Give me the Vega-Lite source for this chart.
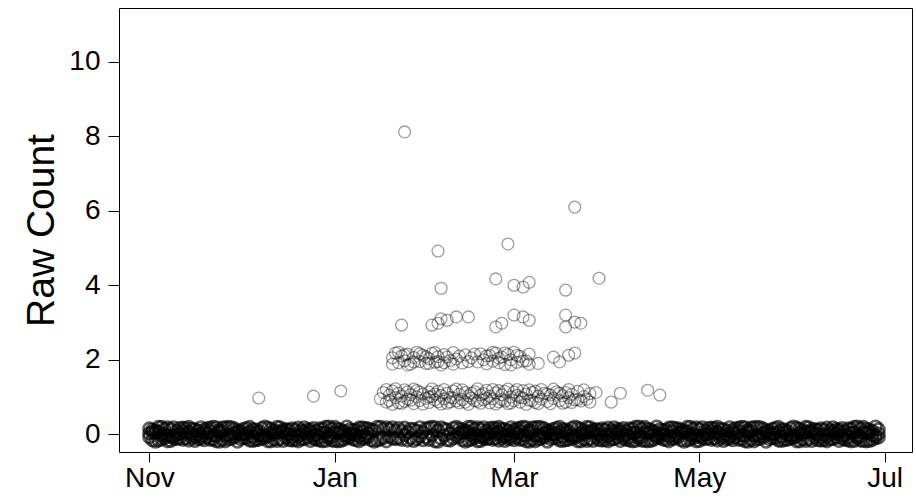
{
  "$schema": "https://vega.github.io/schema/vega-lite/v6.json",
  "width": 793,
  "height": 444,
  "autosize": {"type": "none"},
  "padding": {"left": 119, "top": 8, "right": 4, "bottom": 47},
  "background": "white",
  "config": {
    "view": {"stroke": "black", "strokeWidth": 1},
    "font": "Liberation Sans"
  },
  "datasets": {
    "zeros": [
      {"d":"2014-11-01","n":0.15},{"d":"2014-11-01","n":-0.08},{"d":"2014-11-01","n":0.02},
      {"d":"2014-11-02","n":0.12},{"d":"2014-11-02","n":-0.16},{"d":"2014-11-02","n":0.05},
      {"d":"2014-11-03","n":0.04},{"d":"2014-11-03","n":-0.2},{"d":"2014-11-03","n":0.1},
      {"d":"2014-11-04","n":-0.17},{"d":"2014-11-04","n":0.06},{"d":"2014-11-04","n":0.19},
      {"d":"2014-11-05","n":0.19},{"d":"2014-11-05","n":-0.03},{"d":"2014-11-05","n":-0.14},
      {"d":"2014-11-06","n":0},{"d":"2014-11-06","n":-0.1},{"d":"2014-11-06","n":0.14},
      {"d":"2014-11-07","n":-0.04},{"d":"2014-11-07","n":0.18},{"d":"2014-11-07","n":-0.19},
      {"d":"2014-11-08","n":-0.07},{"d":"2014-11-08","n":0.13},{"d":"2014-11-08","n":-0.18},
      {"d":"2014-11-09","n":0.18},{"d":"2014-11-09","n":-0.06},{"d":"2014-11-09","n":-0.12},
      {"d":"2014-11-10","n":0.09},{"d":"2014-11-10","n":-0.13},{"d":"2014-11-10","n":-0.01},
      {"d":"2014-11-11","n":-0.11},{"d":"2014-11-11","n":0.01},{"d":"2014-11-11","n":0.16},
      {"d":"2014-11-12","n":-0.15},{"d":"2014-11-12","n":0.08},{"d":"2014-11-12","n":0.17},
      {"d":"2014-11-13","n":-0.11},{"d":"2014-11-13","n":0.01},{"d":"2014-11-13","n":0.16},
      {"d":"2014-11-14","n":-0.17},{"d":"2014-11-14","n":0.06},{"d":"2014-11-14","n":0.19},
      {"d":"2014-11-15","n":0},{"d":"2014-11-15","n":-0.1},{"d":"2014-11-15","n":0.14},
      {"d":"2014-11-16","n":-0.07},{"d":"2014-11-16","n":0.13},{"d":"2014-11-16","n":-0.18},
      {"d":"2014-11-17","n":0.09},{"d":"2014-11-17","n":-0.13},{"d":"2014-11-17","n":-0.01},
      {"d":"2014-11-18","n":0.18},{"d":"2014-11-18","n":-0.06},{"d":"2014-11-18","n":-0.12},
      {"d":"2014-11-19","n":0.12},{"d":"2014-11-19","n":-0.16},{"d":"2014-11-19","n":0.05},
      {"d":"2014-11-20","n":0.15},{"d":"2014-11-20","n":-0.08},{"d":"2014-11-20","n":0.02},
      {"d":"2014-11-21","n":-0.15},{"d":"2014-11-21","n":0.08},{"d":"2014-11-21","n":0.17},
      {"d":"2014-11-22","n":0.19},{"d":"2014-11-22","n":-0.03},{"d":"2014-11-22","n":-0.14},
      {"d":"2014-11-23","n":-0.04},{"d":"2014-11-23","n":0.18},{"d":"2014-11-23","n":-0.19},
      {"d":"2014-11-24","n":0.04},{"d":"2014-11-24","n":-0.2},{"d":"2014-11-24","n":0.1},
      {"d":"2014-11-25","n":-0.15},{"d":"2014-11-25","n":0.08},{"d":"2014-11-25","n":0.17},
      {"d":"2014-11-26","n":-0.04},{"d":"2014-11-26","n":0.18},{"d":"2014-11-26","n":-0.19},
      {"d":"2014-11-27","n":0.19},{"d":"2014-11-27","n":-0.03},{"d":"2014-11-27","n":-0.14},
      {"d":"2014-11-28","n":0.18},{"d":"2014-11-28","n":-0.06},{"d":"2014-11-28","n":-0.12},
      {"d":"2014-11-29","n":0.15},{"d":"2014-11-29","n":-0.08},{"d":"2014-11-29","n":0.02},
      {"d":"2014-11-30","n":0.04},{"d":"2014-11-30","n":-0.2},{"d":"2014-11-30","n":0.1},
      {"d":"2014-12-01","n":0.09},{"d":"2014-12-01","n":-0.13},{"d":"2014-12-01","n":-0.01},
      {"d":"2014-12-02","n":0},{"d":"2014-12-02","n":-0.1},{"d":"2014-12-02","n":0.14},
      {"d":"2014-12-03","n":-0.11},{"d":"2014-12-03","n":0.01},{"d":"2014-12-03","n":0.16},
      {"d":"2014-12-04","n":-0.17},{"d":"2014-12-04","n":0.06},{"d":"2014-12-04","n":0.19},
      {"d":"2014-12-05","n":-0.07},{"d":"2014-12-05","n":0.13},{"d":"2014-12-05","n":-0.18},
      {"d":"2014-12-06","n":0.12},{"d":"2014-12-06","n":-0.16},{"d":"2014-12-06","n":0.05},
      {"d":"2014-12-07","n":-0.15},{"d":"2014-12-07","n":0.08},{"d":"2014-12-07","n":-0.02},
      {"d":"2014-12-08","n":-0.12},{"d":"2014-12-08","n":0.16},{"d":"2014-12-08","n":-0.05},
      {"d":"2014-12-09","n":-0.04},{"d":"2014-12-09","n":0.2},{"d":"2014-12-09","n":-0.1},
      {"d":"2014-12-10","n":0.17},{"d":"2014-12-10","n":-0.06},{"d":"2014-12-10","n":-0.19},
      {"d":"2014-12-11","n":-0.19},{"d":"2014-12-11","n":0.03},{"d":"2014-12-11","n":0.14},
      {"d":"2014-12-12","n":0},{"d":"2014-12-12","n":0.1},{"d":"2014-12-12","n":-0.14},
      {"d":"2014-12-13","n":0.04},{"d":"2014-12-13","n":-0.18},{"d":"2014-12-13","n":0.19},
      {"d":"2014-12-14","n":0.07},{"d":"2014-12-14","n":-0.13},{"d":"2014-12-14","n":0.18},
      {"d":"2014-12-15","n":-0.18},{"d":"2014-12-15","n":0.06},{"d":"2014-12-15","n":0.12},
      {"d":"2014-12-16","n":-0.09},{"d":"2014-12-16","n":0.13},{"d":"2014-12-16","n":0.01},
      {"d":"2014-12-17","n":0.11},{"d":"2014-12-17","n":-0.01},{"d":"2014-12-17","n":-0.16},
      {"d":"2014-12-18","n":0.15},{"d":"2014-12-18","n":-0.08},{"d":"2014-12-18","n":-0.17},
      {"d":"2014-12-19","n":0.11},{"d":"2014-12-19","n":-0.01},{"d":"2014-12-19","n":-0.16},
      {"d":"2014-12-20","n":0.17},{"d":"2014-12-20","n":-0.06},{"d":"2014-12-20","n":-0.19},
      {"d":"2014-12-21","n":0},{"d":"2014-12-21","n":0.1},{"d":"2014-12-21","n":-0.14},
      {"d":"2014-12-22","n":0.07},{"d":"2014-12-22","n":-0.13},{"d":"2014-12-22","n":0.18},
      {"d":"2014-12-23","n":-0.09},{"d":"2014-12-23","n":0.13},{"d":"2014-12-23","n":0.01},
      {"d":"2014-12-24","n":-0.18},{"d":"2014-12-24","n":0.06},{"d":"2014-12-24","n":0.12},
      {"d":"2014-12-25","n":-0.12},{"d":"2014-12-25","n":0.16},{"d":"2014-12-25","n":-0.05},
      {"d":"2014-12-26","n":-0.15},{"d":"2014-12-26","n":0.08},{"d":"2014-12-26","n":-0.02},
      {"d":"2014-12-27","n":0.15},{"d":"2014-12-27","n":-0.08},{"d":"2014-12-27","n":-0.17},
      {"d":"2014-12-28","n":-0.19},{"d":"2014-12-28","n":0.03},{"d":"2014-12-28","n":0.14},
      {"d":"2014-12-29","n":0.04},{"d":"2014-12-29","n":-0.18},{"d":"2014-12-29","n":0.19},
      {"d":"2014-12-30","n":-0.04},{"d":"2014-12-30","n":0.2},{"d":"2014-12-30","n":-0.1},
      {"d":"2014-12-31","n":0.15},{"d":"2014-12-31","n":-0.08},{"d":"2014-12-31","n":-0.17},
      {"d":"2015-01-01","n":0.04},{"d":"2015-01-01","n":-0.18},{"d":"2015-01-01","n":0.19},
      {"d":"2015-01-02","n":-0.19},{"d":"2015-01-02","n":0.03},{"d":"2015-01-02","n":0.14},
      {"d":"2015-01-03","n":-0.18},{"d":"2015-01-03","n":0.06},{"d":"2015-01-03","n":0.12},
      {"d":"2015-01-04","n":-0.15},{"d":"2015-01-04","n":0.08},{"d":"2015-01-04","n":-0.02},
      {"d":"2015-01-05","n":-0.04},{"d":"2015-01-05","n":0.2},{"d":"2015-01-05","n":-0.1},
      {"d":"2015-01-06","n":-0.09},{"d":"2015-01-06","n":0.13},{"d":"2015-01-06","n":0.01},
      {"d":"2015-01-07","n":0},{"d":"2015-01-07","n":0.1},{"d":"2015-01-07","n":-0.14},
      {"d":"2015-01-08","n":0.11},{"d":"2015-01-08","n":-0.01},{"d":"2015-01-08","n":-0.16},
      {"d":"2015-01-09","n":0.17},{"d":"2015-01-09","n":-0.06},{"d":"2015-01-09","n":-0.19},
      {"d":"2015-01-10","n":0.07},{"d":"2015-01-10","n":-0.13},{"d":"2015-01-10","n":0.18},
      {"d":"2015-01-11","n":-0.12},{"d":"2015-01-11","n":0.16},{"d":"2015-01-11","n":-0.05},
      {"d":"2015-01-12","n":0.15},{"d":"2015-01-12","n":-0.08},{"d":"2015-01-12","n":0.02},
      {"d":"2015-01-13","n":0.12},{"d":"2015-01-13","n":-0.16},
      {"d":"2015-01-14","n":-0.2},{"d":"2015-01-14","n":0.1},
      {"d":"2015-01-15","n":-0.17},{"d":"2015-01-15","n":0.19},
      {"d":"2015-01-16","n":0.19},{"d":"2015-01-16","n":-0.14},
      {"d":"2015-01-17","n":-0.1},{"d":"2015-01-17","n":0.14},
      {"d":"2015-01-18","n":0.18},{"d":"2015-01-18","n":-0.19},
      {"d":"2015-01-19","n":-0.07},{"d":"2015-01-19","n":0.13},
      {"d":"2015-01-20","n":0.18},{"d":"2015-01-20","n":-0.12},
      {"d":"2015-01-21","n":0.09},{"d":"2015-01-21","n":-0.13},
      {"d":"2015-01-22","n":-0.11},{"d":"2015-01-22","n":0.16},
      {"d":"2015-01-23","n":-0.15},{"d":"2015-01-23","n":0.08},
      {"d":"2015-01-24","n":-0.02},{"d":"2015-01-24","n":0.17},
      {"d":"2015-01-25","n":0.06},{"d":"2015-01-25","n":-0.17},
      {"d":"2015-01-26","n":0.14},{"d":"2015-01-26","n":-0.1},
      {"d":"2015-01-27","n":-0.18},{"d":"2015-01-27","n":0.13},
      {"d":"2015-01-28","n":-0.13},{"d":"2015-01-28","n":0.09},
      {"d":"2015-01-29","n":0.18},{"d":"2015-01-29","n":-0.06},
      {"d":"2015-01-30","n":0.05},{"d":"2015-01-30","n":-0.16},
      {"d":"2015-01-31","n":0.15},{"d":"2015-01-31","n":-0.08},
      {"d":"2015-02-01","n":-0.15},{"d":"2015-02-01","n":0.17},
      {"d":"2015-02-02","n":0.19},{"d":"2015-02-02","n":-0.03},
      {"d":"2015-02-03","n":-0.19},{"d":"2015-02-03","n":0.18},
      {"d":"2015-02-04","n":0.1},{"d":"2015-02-04","n":-0.2},
      {"d":"2015-02-05","n":-0.12},{"d":"2015-02-05","n":0.18},
      {"d":"2015-02-06","n":0.14},{"d":"2015-02-06","n":-0.04},
      {"d":"2015-02-07","n":-0.16},{"d":"2015-02-07","n":0.12},
      {"d":"2015-02-08","n":-0.17},{"d":"2015-02-08","n":0.02},
      {"d":"2015-02-09","n":0.16},{"d":"2015-02-09","n":-0.11},
      {"d":"2015-02-10","n":-0.06},{"d":"2015-02-10","n":0.19},
      {"d":"2015-02-11","n":0.15},{"d":"2015-02-11","n":-0.08},{"d":"2015-02-11","n":0.02},
      {"d":"2015-02-12","n":0.12},{"d":"2015-02-12","n":-0.16},{"d":"2015-02-12","n":0.05},
      {"d":"2015-02-13","n":0.04},{"d":"2015-02-13","n":-0.2},{"d":"2015-02-13","n":0.1},
      {"d":"2015-02-14","n":-0.17},{"d":"2015-02-14","n":0.06},{"d":"2015-02-14","n":0.19},
      {"d":"2015-02-15","n":0.19},{"d":"2015-02-15","n":-0.03},{"d":"2015-02-15","n":-0.14},
      {"d":"2015-02-16","n":0},{"d":"2015-02-16","n":-0.1},{"d":"2015-02-16","n":0.14},
      {"d":"2015-02-17","n":-0.04},{"d":"2015-02-17","n":0.18},{"d":"2015-02-17","n":-0.19},
      {"d":"2015-02-18","n":-0.07},{"d":"2015-02-18","n":0.13},{"d":"2015-02-18","n":-0.18},
      {"d":"2015-02-19","n":0.18},{"d":"2015-02-19","n":-0.06},{"d":"2015-02-19","n":-0.12},
      {"d":"2015-02-20","n":0.09},{"d":"2015-02-20","n":-0.13},{"d":"2015-02-20","n":-0.01},
      {"d":"2015-02-21","n":-0.11},{"d":"2015-02-21","n":0.01},{"d":"2015-02-21","n":0.16},
      {"d":"2015-02-22","n":-0.15},{"d":"2015-02-22","n":0.08},{"d":"2015-02-22","n":0.17},
      {"d":"2015-02-23","n":-0.11},{"d":"2015-02-23","n":0.01},{"d":"2015-02-23","n":0.16},
      {"d":"2015-02-24","n":-0.17},{"d":"2015-02-24","n":0.06},{"d":"2015-02-24","n":0.19},
      {"d":"2015-02-25","n":0},{"d":"2015-02-25","n":-0.1},{"d":"2015-02-25","n":0.14},
      {"d":"2015-02-26","n":-0.07},{"d":"2015-02-26","n":0.13},{"d":"2015-02-26","n":-0.18},
      {"d":"2015-02-27","n":0.09},{"d":"2015-02-27","n":-0.13},{"d":"2015-02-27","n":-0.01},
      {"d":"2015-02-28","n":0.18},{"d":"2015-02-28","n":-0.06},{"d":"2015-02-28","n":-0.12},
      {"d":"2015-03-01","n":0.12},{"d":"2015-03-01","n":-0.16},{"d":"2015-03-01","n":0.05},
      {"d":"2015-03-02","n":0.15},{"d":"2015-03-02","n":-0.08},{"d":"2015-03-02","n":0.02},
      {"d":"2015-03-03","n":-0.15},{"d":"2015-03-03","n":0.08},{"d":"2015-03-03","n":0.17},
      {"d":"2015-03-04","n":0.19},{"d":"2015-03-04","n":-0.03},{"d":"2015-03-04","n":-0.14},
      {"d":"2015-03-05","n":-0.04},{"d":"2015-03-05","n":0.18},{"d":"2015-03-05","n":-0.19},
      {"d":"2015-03-06","n":0.04},{"d":"2015-03-06","n":-0.2},{"d":"2015-03-06","n":0.1},
      {"d":"2015-03-07","n":-0.15},{"d":"2015-03-07","n":0.08},{"d":"2015-03-07","n":0.17},
      {"d":"2015-03-08","n":-0.04},{"d":"2015-03-08","n":0.18},{"d":"2015-03-08","n":-0.19},
      {"d":"2015-03-09","n":0.19},{"d":"2015-03-09","n":-0.03},{"d":"2015-03-09","n":-0.14},
      {"d":"2015-03-10","n":0.18},{"d":"2015-03-10","n":-0.06},{"d":"2015-03-10","n":-0.12},
      {"d":"2015-03-11","n":0.15},{"d":"2015-03-11","n":-0.08},{"d":"2015-03-11","n":0.02},
      {"d":"2015-03-12","n":0.04},{"d":"2015-03-12","n":-0.2},{"d":"2015-03-12","n":0.1},
      {"d":"2015-03-13","n":0.09},{"d":"2015-03-13","n":-0.13},{"d":"2015-03-13","n":-0.01},
      {"d":"2015-03-14","n":0},{"d":"2015-03-14","n":-0.1},{"d":"2015-03-14","n":0.14},
      {"d":"2015-03-15","n":-0.11},{"d":"2015-03-15","n":0.01},{"d":"2015-03-15","n":0.16},
      {"d":"2015-03-16","n":-0.17},{"d":"2015-03-16","n":0.06},{"d":"2015-03-16","n":0.19},
      {"d":"2015-03-17","n":-0.07},{"d":"2015-03-17","n":0.13},{"d":"2015-03-17","n":-0.18},
      {"d":"2015-03-18","n":0.12},{"d":"2015-03-18","n":-0.16},{"d":"2015-03-18","n":0.05},
      {"d":"2015-03-19","n":-0.15},{"d":"2015-03-19","n":0.08},{"d":"2015-03-19","n":-0.02},
      {"d":"2015-03-20","n":-0.12},{"d":"2015-03-20","n":0.16},{"d":"2015-03-20","n":-0.05},
      {"d":"2015-03-21","n":-0.04},{"d":"2015-03-21","n":0.2},{"d":"2015-03-21","n":-0.1},
      {"d":"2015-03-22","n":0.17},{"d":"2015-03-22","n":-0.06},{"d":"2015-03-22","n":-0.19},
      {"d":"2015-03-23","n":-0.19},{"d":"2015-03-23","n":0.03},{"d":"2015-03-23","n":0.14},
      {"d":"2015-03-24","n":0},{"d":"2015-03-24","n":0.1},{"d":"2015-03-24","n":-0.14},
      {"d":"2015-03-25","n":0.04},{"d":"2015-03-25","n":-0.18},{"d":"2015-03-25","n":0.19},
      {"d":"2015-03-26","n":0.07},{"d":"2015-03-26","n":-0.13},{"d":"2015-03-26","n":0.18},
      {"d":"2015-03-27","n":-0.18},{"d":"2015-03-27","n":0.06},{"d":"2015-03-27","n":0.12},
      {"d":"2015-03-28","n":-0.09},{"d":"2015-03-28","n":0.13},{"d":"2015-03-28","n":0.01},
      {"d":"2015-03-29","n":0.11},{"d":"2015-03-29","n":-0.01},{"d":"2015-03-29","n":-0.16},
      {"d":"2015-03-30","n":0.15},{"d":"2015-03-30","n":-0.08},{"d":"2015-03-30","n":-0.17},
      {"d":"2015-03-31","n":0.11},{"d":"2015-03-31","n":-0.01},{"d":"2015-03-31","n":-0.16},
      {"d":"2015-04-01","n":0.17},{"d":"2015-04-01","n":-0.06},{"d":"2015-04-01","n":-0.19},
      {"d":"2015-04-02","n":0},{"d":"2015-04-02","n":0.1},{"d":"2015-04-02","n":-0.14},
      {"d":"2015-04-03","n":0.07},{"d":"2015-04-03","n":-0.13},{"d":"2015-04-03","n":0.18},
      {"d":"2015-04-04","n":-0.09},{"d":"2015-04-04","n":0.13},{"d":"2015-04-04","n":0.01},
      {"d":"2015-04-05","n":-0.18},{"d":"2015-04-05","n":0.06},{"d":"2015-04-05","n":0.12},
      {"d":"2015-04-06","n":-0.12},{"d":"2015-04-06","n":0.16},{"d":"2015-04-06","n":-0.05},
      {"d":"2015-04-07","n":-0.15},{"d":"2015-04-07","n":0.08},{"d":"2015-04-07","n":-0.02},
      {"d":"2015-04-08","n":0.15},{"d":"2015-04-08","n":-0.08},{"d":"2015-04-08","n":-0.17},
      {"d":"2015-04-09","n":-0.19},{"d":"2015-04-09","n":0.03},{"d":"2015-04-09","n":0.14},
      {"d":"2015-04-10","n":0.04},{"d":"2015-04-10","n":-0.18},{"d":"2015-04-10","n":0.19},
      {"d":"2015-04-11","n":-0.04},{"d":"2015-04-11","n":0.2},{"d":"2015-04-11","n":-0.1},
      {"d":"2015-04-12","n":0.15},{"d":"2015-04-12","n":-0.08},{"d":"2015-04-12","n":-0.17},
      {"d":"2015-04-13","n":0.04},{"d":"2015-04-13","n":-0.18},{"d":"2015-04-13","n":0.19},
      {"d":"2015-04-14","n":-0.19},{"d":"2015-04-14","n":0.03},{"d":"2015-04-14","n":0.14},
      {"d":"2015-04-15","n":-0.18},{"d":"2015-04-15","n":0.06},{"d":"2015-04-15","n":0.12},
      {"d":"2015-04-16","n":-0.15},{"d":"2015-04-16","n":0.08},{"d":"2015-04-16","n":-0.02},
      {"d":"2015-04-17","n":-0.04},{"d":"2015-04-17","n":0.2},{"d":"2015-04-17","n":-0.1},
      {"d":"2015-04-18","n":-0.09},{"d":"2015-04-18","n":0.13},{"d":"2015-04-18","n":0.01},
      {"d":"2015-04-19","n":0},{"d":"2015-04-19","n":0.1},{"d":"2015-04-19","n":-0.14},
      {"d":"2015-04-20","n":0.11},{"d":"2015-04-20","n":-0.01},{"d":"2015-04-20","n":-0.16},
      {"d":"2015-04-21","n":0.17},{"d":"2015-04-21","n":-0.06},{"d":"2015-04-21","n":-0.19},
      {"d":"2015-04-22","n":0.07},{"d":"2015-04-22","n":-0.13},{"d":"2015-04-22","n":0.18},
      {"d":"2015-04-23","n":-0.12},{"d":"2015-04-23","n":0.16},{"d":"2015-04-23","n":-0.05},
      {"d":"2015-04-24","n":0.15},{"d":"2015-04-24","n":-0.08},{"d":"2015-04-24","n":0.02},
      {"d":"2015-04-25","n":0.12},{"d":"2015-04-25","n":-0.16},{"d":"2015-04-25","n":0.05},
      {"d":"2015-04-26","n":0.04},{"d":"2015-04-26","n":-0.2},{"d":"2015-04-26","n":0.1},
      {"d":"2015-04-27","n":-0.17},{"d":"2015-04-27","n":0.06},{"d":"2015-04-27","n":0.19},
      {"d":"2015-04-28","n":0.19},{"d":"2015-04-28","n":-0.03},{"d":"2015-04-28","n":-0.14},
      {"d":"2015-04-29","n":0},{"d":"2015-04-29","n":-0.1},{"d":"2015-04-29","n":0.14},
      {"d":"2015-04-30","n":-0.04},{"d":"2015-04-30","n":0.18},{"d":"2015-04-30","n":-0.19},
      {"d":"2015-05-01","n":-0.07},{"d":"2015-05-01","n":0.13},{"d":"2015-05-01","n":-0.18},
      {"d":"2015-05-02","n":0.18},{"d":"2015-05-02","n":-0.06},{"d":"2015-05-02","n":-0.12},
      {"d":"2015-05-03","n":0.09},{"d":"2015-05-03","n":-0.13},{"d":"2015-05-03","n":-0.01},
      {"d":"2015-05-04","n":-0.11},{"d":"2015-05-04","n":0.01},{"d":"2015-05-04","n":0.16},
      {"d":"2015-05-05","n":-0.15},{"d":"2015-05-05","n":0.08},{"d":"2015-05-05","n":0.17},
      {"d":"2015-05-06","n":-0.11},{"d":"2015-05-06","n":0.01},{"d":"2015-05-06","n":0.16},
      {"d":"2015-05-07","n":-0.17},{"d":"2015-05-07","n":0.06},{"d":"2015-05-07","n":0.19},
      {"d":"2015-05-08","n":0},{"d":"2015-05-08","n":-0.1},{"d":"2015-05-08","n":0.14},
      {"d":"2015-05-09","n":-0.07},{"d":"2015-05-09","n":0.13},{"d":"2015-05-09","n":-0.18},
      {"d":"2015-05-10","n":0.09},{"d":"2015-05-10","n":-0.13},{"d":"2015-05-10","n":-0.01},
      {"d":"2015-05-11","n":0.18},{"d":"2015-05-11","n":-0.06},{"d":"2015-05-11","n":-0.12},
      {"d":"2015-05-12","n":0.12},{"d":"2015-05-12","n":-0.16},{"d":"2015-05-12","n":0.05},
      {"d":"2015-05-13","n":0.15},{"d":"2015-05-13","n":-0.08},{"d":"2015-05-13","n":0.02},
      {"d":"2015-05-14","n":-0.15},{"d":"2015-05-14","n":0.08},{"d":"2015-05-14","n":0.17},
      {"d":"2015-05-15","n":0.19},{"d":"2015-05-15","n":-0.03},{"d":"2015-05-15","n":-0.14},
      {"d":"2015-05-16","n":-0.04},{"d":"2015-05-16","n":0.18},{"d":"2015-05-16","n":-0.19},
      {"d":"2015-05-17","n":0.04},{"d":"2015-05-17","n":-0.2},{"d":"2015-05-17","n":0.1},
      {"d":"2015-05-18","n":-0.15},{"d":"2015-05-18","n":0.08},{"d":"2015-05-18","n":0.17},
      {"d":"2015-05-19","n":-0.04},{"d":"2015-05-19","n":0.18},{"d":"2015-05-19","n":-0.19},
      {"d":"2015-05-20","n":0.19},{"d":"2015-05-20","n":-0.03},{"d":"2015-05-20","n":-0.14},
      {"d":"2015-05-21","n":0.18},{"d":"2015-05-21","n":-0.06},{"d":"2015-05-21","n":-0.12},
      {"d":"2015-05-22","n":0.15},{"d":"2015-05-22","n":-0.08},{"d":"2015-05-22","n":0.02},
      {"d":"2015-05-23","n":0.04},{"d":"2015-05-23","n":-0.2},{"d":"2015-05-23","n":0.1},
      {"d":"2015-05-24","n":0.09},{"d":"2015-05-24","n":-0.13},{"d":"2015-05-24","n":-0.01},
      {"d":"2015-05-25","n":0},{"d":"2015-05-25","n":-0.1},{"d":"2015-05-25","n":0.14},
      {"d":"2015-05-26","n":-0.11},{"d":"2015-05-26","n":0.01},{"d":"2015-05-26","n":0.16},
      {"d":"2015-05-27","n":-0.17},{"d":"2015-05-27","n":0.06},{"d":"2015-05-27","n":0.19},
      {"d":"2015-05-28","n":-0.07},{"d":"2015-05-28","n":0.13},{"d":"2015-05-28","n":-0.18},
      {"d":"2015-05-29","n":0.12},{"d":"2015-05-29","n":-0.16},{"d":"2015-05-29","n":0.05},
      {"d":"2015-05-30","n":-0.15},{"d":"2015-05-30","n":0.08},{"d":"2015-05-30","n":-0.02},
      {"d":"2015-05-31","n":-0.12},{"d":"2015-05-31","n":0.16},{"d":"2015-05-31","n":-0.05},
      {"d":"2015-06-01","n":-0.04},{"d":"2015-06-01","n":0.2},{"d":"2015-06-01","n":-0.1},
      {"d":"2015-06-02","n":0.17},{"d":"2015-06-02","n":-0.06},{"d":"2015-06-02","n":-0.19},
      {"d":"2015-06-03","n":-0.19},{"d":"2015-06-03","n":0.03},{"d":"2015-06-03","n":0.14},
      {"d":"2015-06-04","n":0},{"d":"2015-06-04","n":0.1},{"d":"2015-06-04","n":-0.14},
      {"d":"2015-06-05","n":0.04},{"d":"2015-06-05","n":-0.18},{"d":"2015-06-05","n":0.19},
      {"d":"2015-06-06","n":0.07},{"d":"2015-06-06","n":-0.13},{"d":"2015-06-06","n":0.18},
      {"d":"2015-06-07","n":-0.18},{"d":"2015-06-07","n":0.06},{"d":"2015-06-07","n":0.12},
      {"d":"2015-06-08","n":-0.09},{"d":"2015-06-08","n":0.13},{"d":"2015-06-08","n":0.01},
      {"d":"2015-06-09","n":0.11},{"d":"2015-06-09","n":-0.01},{"d":"2015-06-09","n":-0.16},
      {"d":"2015-06-10","n":0.15},{"d":"2015-06-10","n":-0.08},{"d":"2015-06-10","n":-0.17},
      {"d":"2015-06-11","n":0.11},{"d":"2015-06-11","n":-0.01},{"d":"2015-06-11","n":-0.16},
      {"d":"2015-06-12","n":0.17},{"d":"2015-06-12","n":-0.06},{"d":"2015-06-12","n":-0.19},
      {"d":"2015-06-13","n":0},{"d":"2015-06-13","n":0.1},{"d":"2015-06-13","n":-0.14},
      {"d":"2015-06-14","n":0.07},{"d":"2015-06-14","n":-0.13},{"d":"2015-06-14","n":0.18},
      {"d":"2015-06-15","n":-0.09},{"d":"2015-06-15","n":0.13},{"d":"2015-06-15","n":0.01},
      {"d":"2015-06-16","n":-0.18},{"d":"2015-06-16","n":0.06},{"d":"2015-06-16","n":0.12},
      {"d":"2015-06-17","n":-0.12},{"d":"2015-06-17","n":0.16},{"d":"2015-06-17","n":-0.05},
      {"d":"2015-06-18","n":-0.15},{"d":"2015-06-18","n":0.08},{"d":"2015-06-18","n":-0.02},
      {"d":"2015-06-19","n":0.15},{"d":"2015-06-19","n":-0.08},{"d":"2015-06-19","n":-0.17},
      {"d":"2015-06-20","n":-0.19},{"d":"2015-06-20","n":0.03},{"d":"2015-06-20","n":0.14},
      {"d":"2015-06-21","n":0.04},{"d":"2015-06-21","n":-0.18},{"d":"2015-06-21","n":0.19},
      {"d":"2015-06-22","n":-0.04},{"d":"2015-06-22","n":0.2},{"d":"2015-06-22","n":-0.1},
      {"d":"2015-06-23","n":0.15},{"d":"2015-06-23","n":-0.08},{"d":"2015-06-23","n":-0.17},
      {"d":"2015-06-24","n":0.04},{"d":"2015-06-24","n":-0.18},{"d":"2015-06-24","n":0.19},
      {"d":"2015-06-25","n":-0.19},{"d":"2015-06-25","n":0.03},{"d":"2015-06-25","n":0.14},
      {"d":"2015-06-26","n":-0.18},{"d":"2015-06-26","n":0.06},{"d":"2015-06-26","n":0.12},
      {"d":"2015-06-27","n":-0.15},{"d":"2015-06-27","n":0.08},{"d":"2015-06-27","n":-0.02},
      {"d":"2015-06-28","n":-0.04},{"d":"2015-06-28","n":0.2},{"d":"2015-06-28","n":-0.1},
      {"d":"2015-06-29","n":-0.09},{"d":"2015-06-29","n":0.13},{"d":"2015-06-29","n":0.01}
    ],
    "counts": [
      {"d":"2014-12-07","n":0.97},{"d":"2014-12-25","n":1.02},{"d":"2015-01-03","n":1.16},
      {"d":"2015-01-24","n":8.12},{"d":"2015-03-21","n":6.1},{"d":"2015-02-27","n":5.11},
      {"d":"2015-02-04","n":4.92},{"d":"2015-02-23","n":4.17},{"d":"2015-03-29","n":4.19},
      {"d":"2015-02-05","n":3.92},{"d":"2015-03-01","n":4.0},{"d":"2015-03-04","n":3.95},
      {"d":"2015-03-06","n":4.08},{"d":"2015-03-18","n":3.87},

      {"d":"2015-01-23","n":2.93},{"d":"2015-02-02","n":2.93},{"d":"2015-02-04","n":2.98},
      {"d":"2015-02-05","n":3.1},{"d":"2015-02-07","n":3.06},{"d":"2015-02-10","n":3.15},
      {"d":"2015-02-14","n":3.15},{"d":"2015-02-23","n":2.88},{"d":"2015-02-25","n":2.98},
      {"d":"2015-03-01","n":3.2},{"d":"2015-03-04","n":3.15},{"d":"2015-03-06","n":3.06},
      {"d":"2015-03-18","n":3.2},{"d":"2015-03-21","n":3.01},{"d":"2015-03-23","n":2.98},
      {"d":"2015-03-18","n":2.88},

      {"d":"2015-01-20","n":2.05},{"d":"2015-01-21","n":2.18},{"d":"2015-01-22","n":1.92},
      {"d":"2015-01-23","n":2.1},{"d":"2015-01-24","n":1.97},{"d":"2015-01-25","n":2.15},
      {"d":"2015-01-26","n":1.88},{"d":"2015-01-27","n":2.06},{"d":"2015-01-28","n":2.2},
      {"d":"2015-01-29","n":1.95},{"d":"2015-01-30","n":2.12},{"d":"2015-01-31","n":1.9},
      {"d":"2015-02-01","n":2.03},{"d":"2015-02-02","n":2.17},{"d":"2015-02-03","n":1.93},
      {"d":"2015-02-04","n":2.08},{"d":"2015-02-05","n":1.86},{"d":"2015-02-06","n":2.14},
      {"d":"2015-02-08","n":1.98},{"d":"2015-02-09","n":2.19},{"d":"2015-02-10","n":2.02},
      {"d":"2015-02-12","n":1.91},{"d":"2015-02-13","n":2.13},{"d":"2015-02-15","n":2.05},
      {"d":"2015-02-17","n":1.94},{"d":"2015-02-18","n":2.16},{"d":"2015-02-19","n":2.0},
      {"d":"2015-02-20","n":1.89},{"d":"2015-02-21","n":2.11},{"d":"2015-02-22","n":1.96},
      {"d":"2015-02-23","n":2.18},{"d":"2015-02-24","n":1.92},{"d":"2015-02-25","n":2.07},
      {"d":"2015-02-26","n":1.87},{"d":"2015-02-27","n":2.14},{"d":"2015-02-28","n":2.0},
      {"d":"2015-03-01","n":2.2},{"d":"2015-03-02","n":1.93},{"d":"2015-03-03","n":2.09},
      {"d":"2015-03-05","n":1.97},{"d":"2015-03-06","n":2.15},{"d":"2015-03-09","n":1.9},
      {"d":"2015-03-14","n":2.07},{"d":"2015-03-16","n":1.94},{"d":"2015-03-19","n":2.12},
      {"d":"2015-03-21","n":2.18},
      {"d":"2015-01-20","n":1.88},{"d":"2015-01-22","n":2.2},{"d":"2015-01-24","n":2.13},
      {"d":"2015-01-25","n":1.86},{"d":"2015-01-27","n":1.94},{"d":"2015-01-29","n":2.16},
      {"d":"2015-01-31","n":2.08},{"d":"2015-02-01","n":1.9},{"d":"2015-02-03","n":2.19},
      {"d":"2015-02-04","n":1.95},{"d":"2015-02-06","n":1.92},{"d":"2015-02-07","n":2.07},
      {"d":"2015-02-09","n":1.88},{"d":"2015-02-11","n":2.1},{"d":"2015-02-14","n":1.95},
      {"d":"2015-02-16","n":2.15},{"d":"2015-02-20","n":2.1},{"d":"2015-02-22","n":2.2},
      {"d":"2015-02-24","n":2.04},{"d":"2015-02-26","n":2.18},{"d":"2015-02-28","n":1.86},
      {"d":"2015-03-02","n":2.12},{"d":"2015-03-04","n":1.96},{"d":"2015-03-06","n":1.88},

      {"d":"2015-01-16","n":0.95},{"d":"2015-01-17","n":1.12},{"d":"2015-01-18","n":0.86},
      {"d":"2015-01-19","n":1.05},{"d":"2015-01-19","n":0.9},{"d":"2015-01-20","n":1.16},
      {"d":"2015-01-21","n":0.98},{"d":"2015-01-22","n":0.84},{"d":"2015-01-22","n":1.1},
      {"d":"2015-01-23","n":1.02},{"d":"2015-01-24","n":0.88},{"d":"2015-01-25","n":1.14},
      {"d":"2015-01-25","n":0.94},{"d":"2015-01-26","n":1.06},{"d":"2015-01-27","n":0.82},
      {"d":"2015-01-28","n":1.0},{"d":"2015-01-28","n":1.17},{"d":"2015-01-29","n":0.9},
      {"d":"2015-01-30","n":1.08},{"d":"2015-01-31","n":0.96},{"d":"2015-02-01","n":1.13},
      {"d":"2015-02-01","n":0.85},{"d":"2015-02-02","n":1.01},{"d":"2015-02-03","n":0.92},
      {"d":"2015-02-04","n":1.15},{"d":"2015-02-04","n":0.87},{"d":"2015-02-05","n":1.04},
      {"d":"2015-02-06","n":0.95},{"d":"2015-02-07","n":1.1},{"d":"2015-02-07","n":0.83},
      {"d":"2015-02-08","n":0.99},{"d":"2015-02-09","n":1.16},{"d":"2015-02-10","n":0.89},
      {"d":"2015-02-11","n":1.07},{"d":"2015-02-12","n":0.93},{"d":"2015-02-13","n":1.12},
      {"d":"2015-02-13","n":0.86},{"d":"2015-02-14","n":1.03},{"d":"2015-02-15","n":0.97},
      {"d":"2015-02-16","n":1.14},{"d":"2015-02-17","n":0.88},{"d":"2015-02-18","n":1.05},
      {"d":"2015-02-19","n":0.92},{"d":"2015-02-20","n":1.18},{"d":"2015-02-21","n":0.84},
      {"d":"2015-02-21","n":1.02},{"d":"2015-02-22","n":0.95},{"d":"2015-02-23","n":1.11},
      {"d":"2015-02-24","n":0.87},{"d":"2015-02-25","n":1.06},{"d":"2015-02-25","n":0.93},
      {"d":"2015-02-26","n":1.15},{"d":"2015-02-27","n":0.82},{"d":"2015-02-28","n":1.0},
      {"d":"2015-03-01","n":1.13},{"d":"2015-03-01","n":0.9},{"d":"2015-03-02","n":1.04},
      {"d":"2015-03-03","n":0.86},{"d":"2015-03-04","n":1.17},{"d":"2015-03-04","n":0.97},
      {"d":"2015-03-05","n":1.08},{"d":"2015-03-06","n":0.91},{"d":"2015-03-07","n":1.12},
      {"d":"2015-03-08","n":0.85},{"d":"2015-03-09","n":1.02},{"d":"2015-03-10","n":0.94},
      {"d":"2015-03-11","n":1.1},{"d":"2015-03-12","n":0.88},{"d":"2015-03-13","n":1.05},
      {"d":"2015-03-14","n":0.96},{"d":"2015-03-15","n":1.14},{"d":"2015-03-16","n":0.9},
      {"d":"2015-03-17","n":1.03},{"d":"2015-03-18","n":0.86},{"d":"2015-03-18","n":1.12},
      {"d":"2015-03-19","n":0.98},{"d":"2015-03-20","n":1.07},{"d":"2015-03-21","n":0.92},
      {"d":"2015-03-22","n":1.15},{"d":"2015-03-23","n":0.89},{"d":"2015-03-24","n":1.01},
      {"d":"2015-03-25","n":0.94},{"d":"2015-03-26","n":1.09},{"d":"2015-03-28","n":1.12},
      {"d":"2015-04-02","n":0.86},{"d":"2015-04-05","n":1.1},{"d":"2015-04-14","n":1.18},
      {"d":"2015-04-18","n":1.05},
      {"d":"2015-01-18","n":1.2},{"d":"2015-01-20","n":0.8},{"d":"2015-01-21","n":1.22},
      {"d":"2015-01-23","n":0.83},{"d":"2015-01-24","n":1.19},{"d":"2015-01-26","n":0.91},
      {"d":"2015-01-27","n":1.21},{"d":"2015-01-29","n":1.13},{"d":"2015-01-30","n":0.81},
      {"d":"2015-02-01","n":1.0},{"d":"2015-02-02","n":1.22},{"d":"2015-02-03","n":1.08},
      {"d":"2015-02-05","n":0.81},{"d":"2015-02-06","n":1.2},{"d":"2015-02-08","n":0.87},
      {"d":"2015-02-09","n":0.97},{"d":"2015-02-10","n":1.21},{"d":"2015-02-11","n":0.84},
      {"d":"2015-02-12","n":1.19},{"d":"2015-02-14","n":0.8},{"d":"2015-02-15","n":1.1},
      {"d":"2015-02-16","n":0.9},{"d":"2015-02-17","n":1.22},{"d":"2015-02-18","n":0.83},
      {"d":"2015-02-19","n":1.09},{"d":"2015-02-20","n":0.96},{"d":"2015-02-22","n":1.2},
      {"d":"2015-02-23","n":0.81},{"d":"2015-02-24","n":1.17},{"d":"2015-02-26","n":0.89},
      {"d":"2015-02-27","n":1.21},{"d":"2015-02-28","n":0.84},{"d":"2015-03-02","n":1.2},
      {"d":"2015-03-03","n":0.99},{"d":"2015-03-05","n":0.8},{"d":"2015-03-06","n":1.19},
      {"d":"2015-03-07","n":0.9},{"d":"2015-03-08","n":1.16},{"d":"2015-03-09","n":0.82},
      {"d":"2015-03-10","n":1.2},{"d":"2015-03-12","n":1.08},{"d":"2015-03-13","n":0.82},
      {"d":"2015-03-14","n":1.21},{"d":"2015-03-16","n":1.1},{"d":"2015-03-17","n":0.83},
      {"d":"2015-03-19","n":1.2},{"d":"2015-03-20","n":0.85},{"d":"2015-03-22","n":0.93},
      {"d":"2015-03-24","n":1.19},{"d":"2015-03-26","n":0.86}
    ]
  },
  "encoding": {
    "x": {
      "field": "d",
      "type": "temporal",
      "scale": {
        "type": "utc",
        "nice": false,
        "domain": [
          {"year": 2014, "month": "oct", "date": 22, "utc": true},
          {"year": 2015, "month": "jul", "date": 10, "utc": true}
        ]
      },
      "axis": {
        "title": null,
        "values": [
          {"year": 2014, "month": "nov", "date": 1, "utc": true},
          {"year": 2015, "month": "jan", "date": 1, "utc": true},
          {"year": 2015, "month": "mar", "date": 1, "utc": true},
          {"year": 2015, "month": "may", "date": 1, "utc": true},
          {"year": 2015, "month": "jul", "date": 1, "utc": true}
        ],
        "format": "%b",
        "grid": false,
        "domain": false,
        "tickColor": "black",
        "tickSize": 10,
        "tickWidth": 1,
        "labelFont": "Liberation Sans",
        "labelFontSize": 28,
        "labelColor": "black",
        "labelPadding": 2,
        "labelFlush": false,
        "labelOverlap": false
      }
    },
    "y": {
      "field": "n",
      "type": "quantitative",
      "scale": {"domain": [-0.48, 11.45], "nice": false, "zero": false},
      "axis": {
        "title": "Raw Count",
        "values": [0, 2, 4, 6, 8, 10],
        "grid": false,
        "domain": false,
        "tickColor": "black",
        "tickSize": 11,
        "tickWidth": 1,
        "labelFont": "Liberation Sans",
        "labelFontSize": 28,
        "labelColor": "black",
        "labelPadding": 8,
        "labelFlush": false,
        "labelOverlap": false,
        "titleFont": "Liberation Sans",
        "titleFontSize": 39,
        "titleFontWeight": "normal",
        "titleColor": "black",
        "titleAngle": -90,
        "titleAlign": "center",
        "titleBaseline": "alphabetic",
        "titleX": -66,
        "titleY": 222
      }
    }
  },
  "layer": [
    {
      "data": {"name": "zeros"},
      "mark": {
        "type": "point",
        "shape": "circle",
        "filled": false,
        "stroke": "black",
        "strokeWidth": 2.6,
        "opacity": 0.62,
        "size": 140
      }
    },
    {
      "data": {"name": "counts"},
      "mark": {
        "type": "point",
        "shape": "circle",
        "filled": false,
        "stroke": "black",
        "strokeWidth": 1.3,
        "opacity": 0.38,
        "size": 140
      }
    }
  ]
}
